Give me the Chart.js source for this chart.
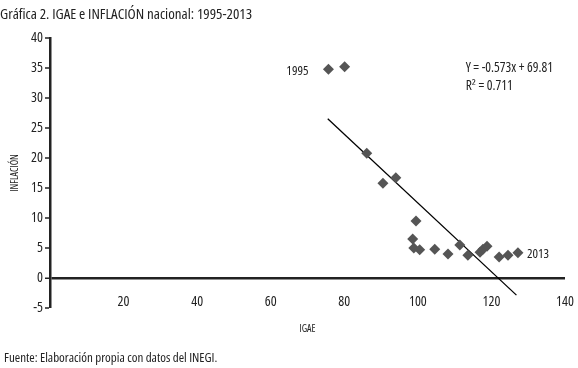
<!doctype html>
<html lang="es">
<head>
<meta charset="utf-8">
<title>IGAE e INFLACIÓN nacional</title>
<script src="https://cdn.jsdelivr.net/npm/chart.js"></script>
<style>
body { margin: 0; background: #fff; }
#wrap { position: relative; width: 578px; height: 368px; }
#fuente { position: absolute; left: 4px; top: 348px; font-family: 'Open Sans', sans-serif; font-size: 13px; font-stretch: condensed; color: #222; white-space: nowrap; }
</style>
</head>
<body>
<div id="wrap">
<canvas id="myChart" width="578" height="368"></canvas>
<div id="fuente">Fuente: Elaboración propia con datos del INEGI.</div>
</div>

<script>
// datos (1995-2013)
const years = [1995, 1996, 1997, 1998, 1999, 2000, 2001, 2002, 2003, 2004, 2005, 2006, 2007, 2008, 2009, 2010, 2011, 2012, 2013];
const igae = [75.7, 80.1, 86.1, 90.5, 94.0, 99.5, 98.6, 98.9, 100.5, 104.6, 108.2, 111.4, 113.6, 116.9, 117.7, 118.8, 122.1, 124.5, 127.2];
const inflacion = [34.8, 35.2, 20.8, 15.8, 16.7, 9.5, 6.5, 5.0, 4.7, 4.8, 4.0, 5.5, 3.8, 4.3, 4.8, 5.3, 3.5, 3.8, 4.2];
// línea de tendencia (extremos)
const trendX = [75.5, 126.8];
const trendY = [26.55, -2.85];
const ecuacion = 'Y = -0.573x + 69.81';
const r2 = 'R² = 0.711';

const FONT = "'Open Sans', sans-serif";
const W = 'normal condensed'; // va en "weight" para que la letra salga estrecha

let puntos = [];
for (let i = 0; i < years.length; i++) {
	puntos.push({x: igae[i], y: inflacion[i]});
}
let tendencia = [];
for (let i = 0; i < trendX.length; i++) {
	tendencia.push({x: trendX[i], y: trendY[i]});
}

// etiquetas 1995, 2013 y ecuación
const etiquetas = {
	id: 'etiquetas',
	afterDatasetsDraw(chart) {
		const ctx = chart.ctx;
		const sx = chart.scales.x, sy = chart.scales.y;
		ctx.save();
		ctx.fillStyle = '#222';
		ctx.font = W + ' 13px ' + FONT;
		ctx.textBaseline = 'middle';
		let n = years.length - 1;
		ctx.textAlign = 'right';
		ctx.fillText(String(years[0]), sx.getPixelForValue(igae[0]) - 20, sy.getPixelForValue(inflacion[0]) + 2);
		ctx.textAlign = 'left';
		ctx.fillText(String(years[n]), sx.getPixelForValue(igae[n]) + 9, sy.getPixelForValue(inflacion[n]) + 1);
		ctx.font = W + ' 13.5px ' + FONT;
		ctx.fillText(ecuacion, sx.getPixelForValue(113), sy.getPixelForValue(35));
		ctx.fillText(r2, sx.getPixelForValue(113), sy.getPixelForValue(32));
		ctx.restore();
	}
};

const config = {
	type: 'scatter',
	data: {
		datasets: [{
			label: 'INFLACIÓN',
			data: puntos,
			pointStyle: 'rectRot',
			pointRadius: 5.5,
			backgroundColor: '#555555',
			borderColor: '#555555',
			borderWidth: 0
		}, {
			label: 'Tendencia',
			type: 'line',
			data: tendencia,
			borderColor: '#000',
			borderWidth: 1.3,
			pointRadius: 0,
			fill: false
		}]
	},
	options: {
		responsive: false,
		animation: false,
		layout: { padding: { left: 0, right: 13, top: 0, bottom: 33 } },
		plugins: {
			legend: { display: false },
			tooltip: { enabled: false },
			title: {
				display: true,
				text: 'Gráfica 2. IGAE e INFLACIÓN nacional: 1995-2013',
				align: 'start',
				color: '#222',
				font: { family: FONT, size: 15, weight: W, lineHeight: 1.2 },
				padding: { top: 6, bottom: 14 }
			}
		},
		scales: {
			x: {
				type: 'linear',
				min: 0,
				max: 140,
				border: { display: false },
				grid: { display: false, drawTicks: false },
				ticks: {
					stepSize: 20,
					mirror: true, // así las etiquetas no se recortan al subirlas
					padding: -2,
					color: '#222',
					font: { family: FONT, size: 14, weight: W },
					callback: v => v === 0 ? '' : v
				},
				title: {
					display: true,
					text: 'IGAE',
					color: '#222',
					font: { family: FONT, size: 10, weight: W },
					padding: { top: 0, bottom: 0 }
				},
				afterFit: s => { s.height = 27; }
			},
			y: {
				min: -5,
				max: 40,
				border: { display: true, color: '#222', width: 2.5 },
				grid: {
					drawOnChartArea: true,
					color: c => c.tick && c.tick.value === 0 ? '#222' : 'rgba(0,0,0,0)',
					lineWidth: c => c.tick && c.tick.value === 0 ? 2.5 : 0,
					tickColor: '#222',
					tickWidth: 1.5,
					tickLength: 5
				},
				ticks: {
					stepSize: 5,
					padding: 2,
					color: '#222',
					font: { family: FONT, size: 14, weight: W }
				},
				title: {
					display: true,
					text: 'INFLACIÓN',
					color: '#222',
					font: { family: FONT, size: 10, weight: W },
					padding: { top: 9, bottom: 4 }
				},
				afterFit: s => { s.width = 50; }
			}
		}
	},
	plugins: [etiquetas]
};

new Chart(document.getElementById('myChart'), config);
</script>
</body>
</html>
